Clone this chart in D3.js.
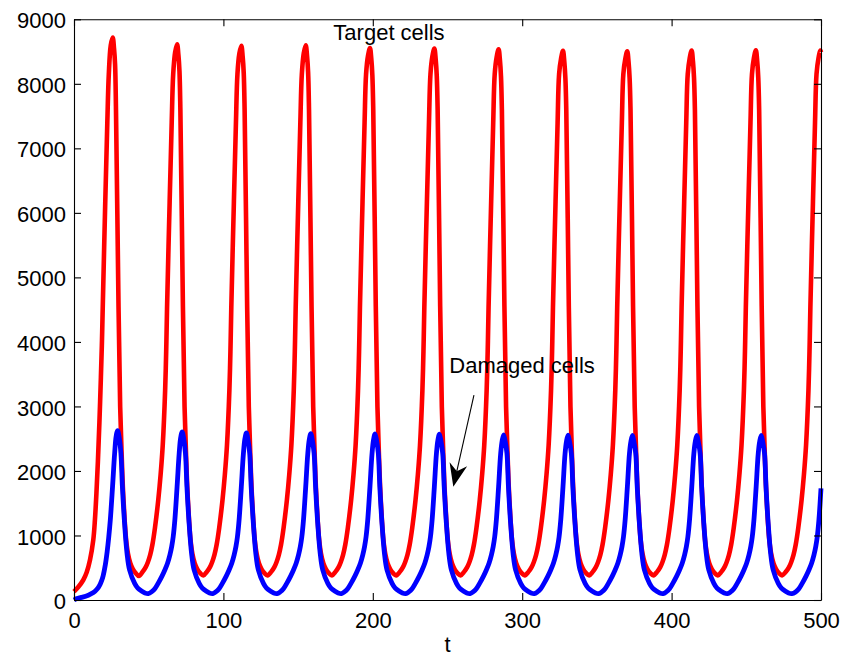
<!DOCTYPE html>
<html>
<head>
<meta charset="utf-8">
<script src="https://cdn.jsdelivr.net/npm/d3@7"></script>
<style>
  html, body { margin: 0; padding: 0; background: #fff; }
  svg { display: block; }
  text { font-family: "Liberation Sans", Arial, Helvetica, sans-serif; fill: #000; }
</style>
</head>
<body>
<svg id="chart" width="842" height="657"></svg>
<script>
// Target cells over time (one row per oscillation)
const targetT = [
  0, 3, 6.2, 8.5, 10.7, 12.9, 14.0, 15.0, 16.0, 17.0, 18.0, 18.7, 19.2, 20.9, 22.3, 23.3, 24.6, 25.9, 26.8, 27.5, 28.1, 29.8, 30.9, 31.9, 32.7, 33.9, 34.9, 36.1, 37.7, 39.4, 41.4, 43.4,
  46.0, 48.0, 49.5, 51.0, 52.5, 54.2, 56.4, 58.0, 59.4, 61.0, 61.7, 62.3, 64.0, 65.4, 66.4, 67.7, 69.0, 69.9, 70.6, 71.2, 72.9, 74.0, 75.0, 75.8, 77.0, 78.0, 79.2, 80.8, 82.5, 84.5, 86.5,
  89.0, 91.0, 92.5, 94.0, 95.5, 97.2, 99.4, 101.0, 102.4, 104.0, 104.7, 105.3, 107.0, 108.4, 109.4, 110.7, 112.0, 112.9, 113.6, 114.2, 115.9, 117.0, 118.0, 118.8, 120.0, 121.0, 122.2, 123.8, 125.5, 127.5, 129.5,
  132.1, 134.1, 135.6, 137.1, 138.6, 140.3, 142.5, 144.1, 145.5, 147.1, 147.8, 148.4, 150.1, 151.5, 152.5, 153.8, 155.1, 156.0, 156.7, 157.3, 159.0, 160.1, 161.1, 161.9, 163.1, 164.1, 165.3, 166.9, 168.6, 170.6, 172.6,
  175.1, 177.1, 178.6, 180.1, 181.6, 183.3, 185.5, 187.1, 188.5, 190.1, 190.8, 191.4, 193.1, 194.5, 195.5, 196.8, 198.1, 199.0, 199.7, 200.3, 202.0, 203.1, 204.1, 204.9, 206.1, 207.1, 208.3, 209.9, 211.6, 213.6, 215.6,
  218.2, 220.2, 221.7, 223.2, 224.7, 226.4, 228.6, 230.2, 231.6, 233.2, 233.9, 234.5, 236.2, 237.6, 238.6, 239.9, 241.2, 242.1, 242.8, 243.4, 245.1, 246.2, 247.2, 248.0, 249.2, 250.2, 251.4, 253.0, 254.7, 256.7, 258.7,
  261.2, 263.2, 264.7, 266.2, 267.7, 269.4, 271.6, 273.2, 274.6, 276.2, 276.9, 277.5, 279.2, 280.6, 281.6, 282.9, 284.2, 285.1, 285.8, 286.4, 288.1, 289.2, 290.2, 291.0, 292.2, 293.2, 294.4, 296.0, 297.7, 299.7, 301.7,
  304.3, 306.3, 307.8, 309.3, 310.8, 312.5, 314.7, 316.3, 317.7, 319.3, 320.0, 320.6, 322.3, 323.7, 324.7, 326.0, 327.3, 328.2, 328.9, 329.5, 331.2, 332.3, 333.3, 334.1, 335.3, 336.3, 337.5, 339.1, 340.8, 342.8, 344.8,
  347.3, 349.3, 350.8, 352.3, 353.8, 355.5, 357.7, 359.3, 360.7, 362.3, 363.0, 363.6, 365.3, 366.7, 367.7, 369.0, 370.3, 371.2, 371.9, 372.5, 374.2, 375.3, 376.3, 377.1, 378.3, 379.3, 380.5, 382.1, 383.8, 385.8, 387.8,
  390.4, 392.4, 393.9, 395.4, 396.9, 398.6, 400.8, 402.4, 403.8, 405.4, 406.1, 406.7, 408.4, 409.8, 410.8, 412.1, 413.4, 414.3, 415.0, 415.6, 417.3, 418.4, 419.4, 420.2, 421.4, 422.4, 423.6, 425.2, 426.9, 428.9, 430.9,
  433.4, 435.4, 436.9, 438.4, 439.9, 441.6, 443.8, 445.4, 446.8, 448.4, 449.1, 449.7, 451.4, 452.8, 453.8, 455.1, 456.4, 457.3, 458.0, 458.6, 460.3, 461.4, 462.4, 463.2, 464.4, 465.4, 466.6, 468.2, 469.9, 471.9, 473.9,
  476.6, 478.6, 480.1, 481.6, 483.1, 484.8, 487.0, 488.6, 490.0, 491.6, 492.3, 492.9, 494.6, 496.0, 497.0, 498.3, 499.6, 500.0
];
const targetV = [
  130, 205, 310, 430, 620, 930, 1240, 1650, 2150, 2750, 3450, 4000, 4500, 6150, 7400, 8150, 8596, 8716, 8546, 8296, 7600, 4550, 3000, 2250, 1755, 1239, 930, 723, 570, 480, 415, 372,
  440, 510, 590, 700, 860, 1120, 1550, 1950, 2400, 3250, 3850, 4550, 6150, 7400, 8150, 8492, 8612, 8442, 8192, 7600, 4550, 3000, 2250, 1755, 1239, 930, 723, 570, 480, 415, 380,
  440, 510, 590, 700, 860, 1120, 1550, 1950, 2400, 3250, 3850, 4550, 6150, 7400, 8150, 8470, 8590, 8420, 8170, 7600, 4550, 3000, 2250, 1755, 1239, 930, 723, 570, 480, 415, 380,
  440, 510, 590, 700, 860, 1120, 1550, 1950, 2400, 3250, 3850, 4550, 6150, 7400, 8150, 8477, 8597, 8427, 8177, 7600, 4550, 3000, 2250, 1755, 1239, 930, 723, 570, 480, 415, 381,
  440, 510, 590, 700, 860, 1120, 1550, 1950, 2400, 3250, 3850, 4550, 6150, 7400, 8150, 8435, 8555, 8385, 8135, 7600, 4550, 3000, 2250, 1755, 1239, 930, 723, 570, 480, 415, 381,
  440, 510, 590, 700, 860, 1120, 1550, 1950, 2400, 3250, 3850, 4550, 6150, 7400, 8150, 8428, 8548, 8378, 8128, 7600, 4550, 3000, 2250, 1755, 1239, 930, 723, 570, 480, 415, 382,
  440, 510, 590, 700, 860, 1120, 1550, 1950, 2400, 3250, 3850, 4550, 6150, 7400, 8150, 8415, 8535, 8365, 8115, 7600, 4550, 3000, 2250, 1755, 1239, 930, 723, 570, 480, 415, 382,
  440, 510, 590, 700, 860, 1120, 1550, 1950, 2400, 3250, 3850, 4550, 6150, 7400, 8150, 8390, 8510, 8340, 8090, 7600, 4550, 3000, 2250, 1755, 1239, 930, 723, 570, 480, 415, 382,
  440, 510, 590, 700, 860, 1120, 1550, 1950, 2400, 3250, 3850, 4550, 6150, 7400, 8150, 8385, 8505, 8335, 8085, 7600, 4550, 3000, 2250, 1755, 1239, 930, 723, 570, 480, 415, 382,
  440, 510, 590, 700, 860, 1120, 1550, 1950, 2400, 3250, 3850, 4550, 6150, 7400, 8150, 8395, 8515, 8345, 8095, 7600, 4550, 3000, 2250, 1755, 1239, 930, 723, 570, 480, 415, 382,
  440, 510, 590, 700, 860, 1120, 1550, 1950, 2400, 3250, 3850, 4550, 6150, 7400, 8150, 8400, 8520, 8350, 8100, 7600, 4550, 3000, 2250, 1755, 1239, 930, 723, 570, 480, 415, 382,
  440, 510, 590, 700, 860, 1120, 1550, 1950, 2400, 3250, 3850, 4550, 6150, 7400, 8150, 8395, 8515, 8490
];

// Damaged cells over time (one row per oscillation)
const damagedT = [
  0, 2, 5, 9.6, 13, 15.5, 17.4, 18.5, 19.5, 21.0, 22.2, 23.2, 24.3, 25.8, 27.2, 28.2, 29.2, 30.2, 31.4, 32.4, 33.7, 35.5, 37.2, 40.6, 42.7, 45.5, 47.5, 49.7,
  51.9, 54.1, 56.3, 58.9, 60.8, 62.6, 64.2, 65.4, 66.4, 67.5, 69.0, 70.4, 71.4, 72.4, 73.4, 74.6, 75.6, 76.9, 78.7, 80.4, 83.8, 85.9, 88.7, 90.7, 92.9,
  94.9, 97.1, 99.3, 101.9, 103.8, 105.6, 107.2, 108.4, 109.4, 110.5, 112.0, 113.4, 114.4, 115.4, 116.4, 117.6, 118.6, 119.9, 121.7, 123.4, 126.8, 128.9, 131.7, 133.7, 135.9,
  138.0, 140.2, 142.4, 145.0, 146.9, 148.7, 150.3, 151.5, 152.5, 153.6, 155.1, 156.5, 157.5, 158.5, 159.5, 160.7, 161.7, 163.0, 164.8, 166.5, 169.9, 172.0, 174.8, 176.8, 179.0,
  181.0, 183.2, 185.4, 188.0, 189.9, 191.7, 193.3, 194.5, 195.5, 196.6, 198.1, 199.5, 200.5, 201.5, 202.5, 203.7, 204.7, 206.0, 207.8, 209.5, 212.9, 215.0, 217.8, 219.8, 222.0,
  224.1, 226.3, 228.5, 231.1, 233.0, 234.8, 236.4, 237.6, 238.6, 239.7, 241.2, 242.6, 243.6, 244.6, 245.6, 246.8, 247.8, 249.1, 250.9, 252.6, 256.0, 258.1, 260.9, 262.9, 265.1,
  267.1, 269.3, 271.5, 274.1, 276.0, 277.8, 279.4, 280.6, 281.6, 282.7, 284.2, 285.6, 286.6, 287.6, 288.6, 289.8, 290.8, 292.1, 293.9, 295.6, 299.0, 301.1, 303.9, 305.9, 308.1,
  310.2, 312.4, 314.6, 317.2, 319.1, 320.9, 322.5, 323.7, 324.7, 325.8, 327.3, 328.7, 329.7, 330.7, 331.7, 332.9, 333.9, 335.2, 337.0, 338.7, 342.1, 344.2, 347.0, 349.0, 351.2,
  353.3, 355.5, 357.7, 360.3, 362.2, 364.0, 365.6, 366.8, 367.8, 368.9, 370.4, 371.8, 372.8, 373.8, 374.8, 376.0, 377.0, 378.3, 380.1, 381.8, 385.2, 387.3, 390.1, 392.1, 394.3,
  396.4, 398.6, 400.8, 403.4, 405.3, 407.1, 408.7, 409.9, 410.9, 412.0, 413.5, 414.9, 415.9, 416.9, 417.9, 419.1, 420.1, 421.4, 423.2, 424.9, 428.3, 430.4, 433.2, 435.2, 437.4,
  439.5, 441.7, 443.9, 446.5, 448.4, 450.2, 451.8, 453.0, 454.0, 455.1, 456.6, 458.0, 459.0, 460.0, 461.0, 462.2, 463.2, 464.5, 466.3, 468.0, 471.4, 473.5, 476.3, 478.3, 480.5,
  483.0, 485.2, 487.4, 490.0, 491.9, 493.7, 495.3, 496.5, 497.5, 498.6, 500.0
];
const damagedV = [
  0, 22, 40, 75, 115, 170, 240, 300, 375, 550, 750, 960, 1239, 1755, 2272, 2535, 2625, 2525, 2272, 1755, 1239, 723, 465, 258, 185, 135, 108, 98,
  125, 175, 258, 370, 465, 570, 700, 830, 980, 1239, 1755, 2272, 2515, 2605, 2505, 2272, 1755, 1239, 723, 465, 258, 185, 135, 108, 98,
  125, 175, 258, 370, 465, 570, 700, 830, 980, 1239, 1755, 2272, 2500, 2590, 2490, 2272, 1755, 1239, 723, 465, 258, 185, 135, 108, 98,
  125, 175, 258, 370, 465, 570, 700, 830, 980, 1239, 1755, 2272, 2490, 2580, 2480, 2272, 1755, 1239, 723, 465, 258, 185, 135, 108, 98,
  125, 175, 258, 370, 465, 570, 700, 830, 980, 1239, 1755, 2272, 2485, 2575, 2475, 2272, 1755, 1239, 723, 465, 258, 185, 135, 108, 98,
  125, 175, 258, 370, 465, 570, 700, 830, 980, 1239, 1755, 2272, 2480, 2570, 2470, 2272, 1755, 1239, 723, 465, 258, 185, 135, 108, 98,
  125, 175, 258, 370, 465, 570, 700, 830, 980, 1239, 1755, 2272, 2470, 2560, 2460, 2272, 1755, 1239, 723, 465, 258, 185, 135, 108, 98,
  125, 175, 258, 370, 465, 570, 700, 830, 980, 1239, 1755, 2272, 2465, 2555, 2455, 2272, 1755, 1239, 723, 465, 258, 185, 135, 108, 98,
  125, 175, 258, 370, 465, 570, 700, 830, 980, 1239, 1755, 2272, 2460, 2550, 2450, 2272, 1755, 1239, 723, 465, 258, 185, 135, 108, 98,
  125, 175, 258, 370, 465, 570, 700, 830, 980, 1239, 1755, 2272, 2460, 2550, 2450, 2272, 1755, 1239, 723, 465, 258, 185, 135, 108, 98,
  125, 175, 258, 370, 465, 570, 700, 830, 980, 1239, 1755, 2272, 2460, 2550, 2450, 2272, 1755, 1239, 723, 465, 258, 185, 135, 108, 98,
  125, 175, 258, 370, 465, 570, 700, 830, 980, 1239, 1730
];

const xTicks = [0, 100, 200, 300, 400, 500];
const yTicks = [0, 1000, 2000, 3000, 4000, 5000, 6000, 7000, 8000, 9000];
const xLabel = "t";

// Text annotations, anchored in data units (t, cells)
const labelTarget = { text: "Target cells", t: 173.6, v: 8674 };
const labelDamaged = { text: "Damaged cells", t: 251.2, v: 3511 };
const arrowFrom = { t: 267.7, v: 3175 };
const arrowTo = { t: 253.9, v: 1755 };

// ---- drawing ----
const svg = d3.select("#chart");
const plot = { left: 74, right: 821, top: 19.3, bottom: 600 };
const FONT = 22;

svg.append("rect").attr("width", 842).attr("height", 657).attr("fill", "#fff");

const x = d3.scaleLinear().domain([0, 500]).range([plot.left, plot.right]);
const y = d3.scaleLinear().domain([0, 9000]).range([plot.bottom, plot.top]);

const line = d3.line()
  .x(d => x(d[0]))
  .y(d => y(d[1]))
  .curve(d3.curveCatmullRom.alpha(0.5));

const target = targetT.map((t, i) => [t, targetV[i]]);
const damaged = damagedT.map((t, i) => [t, damagedV[i]]);

svg.append("path")
  .datum(target)
  .attr("d", line)
  .attr("fill", "none")
  .attr("stroke", "#ff0000")
  .attr("stroke-width", 4.6)
  .attr("stroke-linejoin", "round");

svg.append("path")
  .datum(damaged)
  .attr("d", line)
  .attr("fill", "none")
  .attr("stroke", "#0000ff")
  .attr("stroke-width", 4.8)
  .attr("stroke-linejoin", "round");

// Box axes with inward ticks on all four sides
const TICK = 7;
const fmt = d3.format("d");
function styleAxis(g) {
  g.selectAll(".domain").attr("stroke", "#000").attr("stroke-width", 1.1);
  g.selectAll(".tick line").attr("stroke", "#000").attr("stroke-width", 1.1);
  g.selectAll("text").attr("font-size", FONT).attr("font-family", null).attr("fill", "#000");
}

svg.append("g")
  .attr("transform", `translate(0,${plot.bottom})`)
  .call(d3.axisBottom(x).tickValues(xTicks).tickFormat(fmt).tickSizeInner(-TICK).tickSizeOuter(0).tickPadding(12.5))
  .call(styleAxis);

svg.append("g")
  .attr("transform", `translate(0,${plot.top})`)
  .call(d3.axisTop(x).tickValues(xTicks).tickSizeInner(-TICK).tickSizeOuter(0).tickFormat(""))
  .call(styleAxis);

const leftAxis = svg.append("g")
  .attr("transform", `translate(${plot.left},0)`)
  .call(d3.axisLeft(y).tickValues(yTicks).tickFormat(fmt).tickSizeInner(-TICK).tickSizeOuter(0).tickPadding(8))
  .call(styleAxis);
leftAxis.selectAll(".tick text").attr("dy", "0.39em");

svg.append("g")
  .attr("transform", `translate(${plot.right},0)`)
  .call(d3.axisRight(y).tickValues(yTicks).tickSizeInner(-TICK).tickSizeOuter(0).tickFormat(""))
  .call(styleAxis);

// x-axis title
svg.append("text")
  .attr("x", (plot.left + plot.right) / 2)
  .attr("y", 652)
  .attr("text-anchor", "middle")
  .attr("font-size", FONT)
  .text(xLabel);

// Annotations
svg.append("text")
  .attr("x", x(labelTarget.t))
  .attr("y", y(labelTarget.v))
  .attr("font-size", FONT)
  .text(labelTarget.text);

svg.append("text")
  .attr("x", x(labelDamaged.t))
  .attr("y", y(labelDamaged.v))
  .attr("font-size", FONT)
  .text(labelDamaged.text);

// Arrow with a notched ("vback") head
(function drawArrow() {
  const x0 = x(arrowFrom.t), y0 = y(arrowFrom.v);
  const x1 = x(arrowTo.t), y1 = y(arrowTo.v);
  const dx = x1 - x0, dy = y1 - y0;
  const len = Math.hypot(dx, dy);
  const ux = dx / len, uy = dy / len;
  const px = -uy, py = ux;
  const headLen = 23, headHalf = 9, notch = 16;
  const bx = x1 - ux * headLen, by = y1 - uy * headLen;
  const nx = x1 - ux * notch, ny = y1 - uy * notch;
  svg.append("line")
    .attr("x1", x0).attr("y1", y0)
    .attr("x2", nx).attr("y2", ny)
    .attr("stroke", "#000").attr("stroke-width", 1.1);
  svg.append("path")
    .attr("d", `M${x1},${y1} L${bx + px * headHalf},${by + py * headHalf} L${nx},${ny} L${bx - px * headHalf},${by - py * headHalf} Z`)
    .attr("fill", "#000");
})();
</script>
</body>
</html>
